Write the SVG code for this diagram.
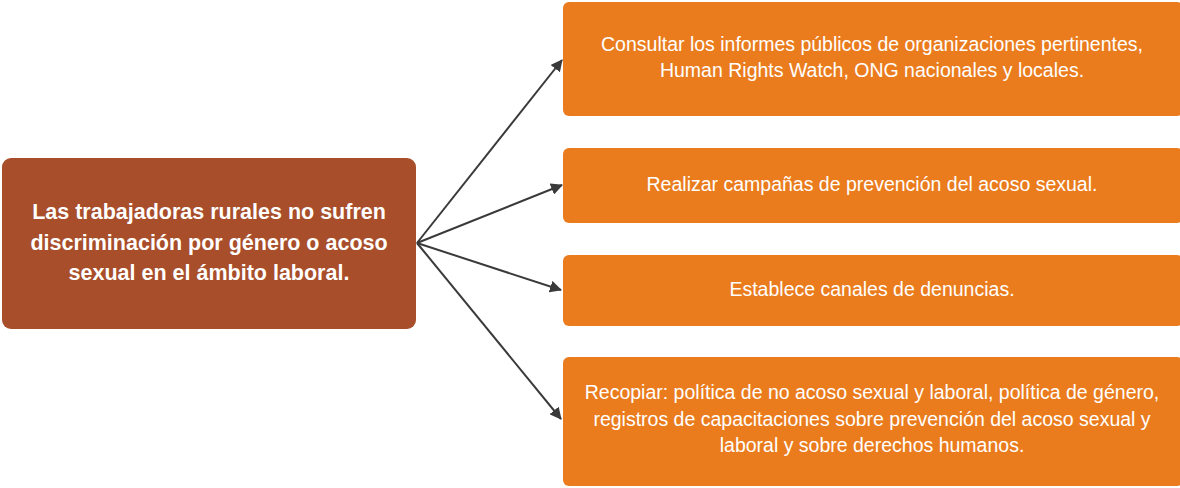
<svg xmlns="http://www.w3.org/2000/svg" width="1180" height="488" viewBox="0 0 1180 488">
<defs>
<marker id="ah" markerWidth="12" markerHeight="12" refX="11" refY="6" orient="auto" markerUnits="userSpaceOnUse" viewBox="0 0 12 12">
<path d="M0,0 L12,6 L0,12 z" fill="#3a3a3a"/>
</marker>
<style>
.src{fill:#A84E2A;}
.tgt{fill:#EA7C1E;}
.t{font-family:"Liberation Sans",Arial,sans-serif;fill:#ffffff;text-anchor:middle;dominant-baseline:central;}
.b{font-size:21.5px;font-weight:bold;}
.n{font-size:19.5px;}
.c{stroke:#3a3a3a;stroke-width:2;fill:none;marker-end:url(#ah);}
</style>
</defs>
<rect width="1180" height="488" fill="#ffffff"/>
<g id="connectors">
<line class="c" x1="417" y1="243" x2="562" y2="60"/>
<line class="c" x1="417" y1="243" x2="562" y2="185"/>
<line class="c" x1="417" y1="243" x2="561" y2="290"/>
<line class="c" x1="417" y1="243" x2="561" y2="419"/>
</g>
<g id="node-main">
<rect class="src" x="2" y="158" width="414" height="171" rx="9"/>
<text class="t b" x="209" y="212">Las trabajadoras rurales no sufren</text>
<text class="t b" x="209" y="243">discriminación por género o acoso</text>
<text class="t b" x="209" y="273">sexual en el ámbito laboral.</text>
</g>
<g id="node-1">
<rect class="tgt" x="563" y="2" width="620" height="114" rx="6"/>
<text class="t n" x="872" y="44">Consultar los informes públicos de organizaciones pertinentes,</text>
<text class="t n" x="872" y="70">Human Rights Watch, ONG nacionales y locales.</text>
</g>
<g id="node-2">
<rect class="tgt" x="563" y="148" width="620" height="75" rx="6"/>
<text class="t n" x="872" y="184">Realizar campañas de prevención del acoso sexual.</text>
</g>
<g id="node-3">
<rect class="tgt" x="563" y="255" width="620" height="71" rx="6"/>
<text class="t n" x="872" y="289">Establece canales de denuncias.</text>
</g>
<g id="node-4">
<rect class="tgt" x="563" y="357" width="620" height="129" rx="6"/>
<text class="t n" x="872" y="392">Recopiar: política de no acoso sexual y laboral, política de género,</text>
<text class="t n" x="872" y="419">registros de capacitaciones sobre prevención del acoso sexual y</text>
<text class="t n" x="872" y="445">laboral y sobre derechos humanos.</text>
</g>
</svg>
